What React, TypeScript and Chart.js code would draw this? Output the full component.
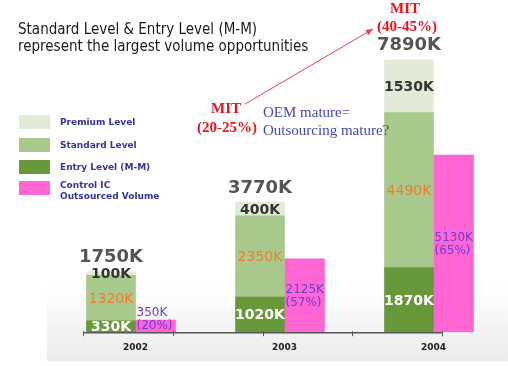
import React, { useEffect, useRef } from 'react';
import { Chart, registerables } from 'chart.js';

Chart.register(...registerables);

// ---- data ----
const years = ['2002', '2003', '2004'];
const entryLevel = [330, 1020, 1870];
const standardLevel = [1320, 2350, 4490];
const premiumLevel = [100, 400, 1530];
const controlIC = [350, 2125, 5130];
const controlPct = [20, 57, 65];
const axisTickSteps = [0, 1, 2, 3, 4];

const titleLines = ['Standard Level & Entry Level (M-M)', 'represent the largest volume opportunities'];
const legendOrder = [2, 1, 0, 3];
const legendLines = [['Premium Level'], ['Standard Level'], ['Entry Level (M-M)'], ['Control IC', 'Outsourced Volume']];

const C_PREMIUM = '#e2ebd6';
const C_STANDARD = '#a8c98b';
const C_ENTRY = '#67993a';
const C_CONTROL = '#ff66d4';

const SANS = '"DejaVu Sans", Verdana, sans-serif';
const SERIF = '"Liberation Serif", "Times New Roman", serif';

const fmtK = (v: number) => `${v}K`;

const decorPlugin = {
  id: 'decor',
  beforeDraw(chart: any) {
    const { ctx } = chart;
    ctx.save();
    const g = ctx.createLinearGradient(0, 285, 0, 361);
    g.addColorStop(0, 'rgba(236,236,236,0)');
    g.addColorStop(1, 'rgba(234,234,234,1)');
    ctx.fillStyle = g;
    ctx.fillRect(47, 285, 461, 76);
    ctx.restore();
  },
  afterDatasetsDraw(chart: any) {
    const { ctx } = chart;
    const yScale = chart.scales.y;
    const xt = chart.scales.xt;
    ctx.save();
    ctx.textBaseline = 'middle';
    ctx.textAlign = 'center';

    // segment labels
    const segStyles = [
      { font: `bold 14px ${SANS}`, color: '#ffffff' },
      { font: `14px ${SANS}`, color: '#f07a2c' },
      { font: `bold 14px ${SANS}`, color: '#333333' },
    ];
    const segData = [entryLevel, standardLevel, premiumLevel];
    for (let d = 0; d < 3; d++) {
      const meta = chart.getDatasetMeta(d);
      meta.data.forEach((el: any, i: number) => {
        const p = el.getProps(['x', 'y', 'base'], true);
        ctx.font = segStyles[d].font;
        ctx.fillStyle = segStyles[d].color;
        ctx.fillText(fmtK(segData[d][i]), p.x, (p.y + p.base) / 2 + 1);
      });
    }

    // totals above stacks
    const topMeta = chart.getDatasetMeta(2);
    topMeta.data.forEach((el: any, i: number) => {
      const p = el.getProps(['x', 'y'], true);
      const total = entryLevel[i] + standardLevel[i] + premiumLevel[i];
      ctx.font = `bold 18px ${SANS}`;
      ctx.fillStyle = '#555555';
      ctx.fillText(fmtK(total), p.x, p.y - 14);
    });

    // control IC labels
    const cMeta = chart.getDatasetMeta(3);
    cMeta.data.forEach((el: any, i: number) => {
      const p = el.getProps(['x', 'y', 'base', 'width'], true);
      const cy = Math.min((p.y + p.base) / 2, p.base - 13);
      ctx.font = `12px ${SANS}`;
      ctx.fillStyle = '#6a3cd4';
      ctx.textAlign = 'left';
      const lx = p.x - p.width / 2 + 1;
      ctx.fillText(fmtK(controlIC[i]), lx, cy - 6);
      ctx.fillText(`(${controlPct[i]}%)`, lx, cy + 7);
    });

    // axis line + ticks
    const y0 = yScale.getPixelForValue(0);
    const xa = xt.getPixelForValue(axisTickSteps[0]);
    const xb = xt.getPixelForValue(axisTickSteps[axisTickSteps.length - 1]);
    ctx.strokeStyle = '#555555';
    ctx.lineWidth = 1.5;
    ctx.beginPath();
    ctx.moveTo(xa, y0 + 0.5);
    ctx.lineTo(xb, y0 + 0.5);
    ctx.stroke();
    ctx.lineWidth = 1;
    axisTickSteps.forEach((t) => {
      const x = Math.round(xt.getPixelForValue(t)) + 0.5;
      ctx.beginPath();
      ctx.moveTo(x, y0 - 1);
      ctx.lineTo(x, y0 + 4);
      ctx.stroke();
    });

    // legend
    const legendY = [122, 145, 167, 188];
    legendOrder.forEach((dsIndex, k) => {
      const ds = chart.data.datasets[dsIndex];
      const cy = legendY[k];
      ctx.fillStyle = ds.backgroundColor;
      ctx.fillRect(19, cy - 7, 31, 14);
      ctx.font = `bold 9px ${SANS}`;
      ctx.fillStyle = '#34349a';
      ctx.textAlign = 'left';
      const lines = legendLines[k];
      if (lines.length === 1) {
        ctx.fillText(lines[0], 60, cy + 1);
      } else {
        ctx.fillText(lines[0], 60, cy - 2);
        ctx.fillText(lines[1], 60, cy + 9);
      }
    });

    // annotations
    ctx.textAlign = 'center';
    ctx.font = `bold 15px ${SERIF}`;
    ctx.fillStyle = '#e4141e';
    ctx.fillText('MIT', 226, 109);
    ctx.fillText('(20-25%)', 227, 128);
    ctx.fillText('MIT', 405, 9);
    ctx.fillText('(40-45%)', 407, 27);

    // arrow
    const ax0 = 245, ay0 = 104, ax1 = 373, ay1 = 29;
    ctx.strokeStyle = '#e6404c';
    ctx.lineWidth = 1;
    ctx.beginPath();
    ctx.moveTo(ax0, ay0);
    ctx.lineTo(ax1, ay1);
    ctx.stroke();
    const ang = Math.atan2(ay1 - ay0, ax1 - ax0);
    ctx.fillStyle = '#e6404c';
    ctx.beginPath();
    ctx.moveTo(ax1, ay1);
    ctx.lineTo(ax1 - 7 * Math.cos(ang) + 3 * Math.sin(ang), ay1 - 7 * Math.sin(ang) - 3 * Math.cos(ang));
    ctx.lineTo(ax1 - 7 * Math.cos(ang) - 3 * Math.sin(ang), ay1 - 7 * Math.sin(ang) + 3 * Math.cos(ang));
    ctx.closePath();
    ctx.fill();

    ctx.textAlign = 'left';
    ctx.font = `15px ${SERIF}`;
    ctx.fillStyle = '#4646b4';
    ctx.fillText('OEM mature=', 263, 113);
    ctx.fillText('Outsourcing mature?', 263, 131);

    ctx.restore();
  },
};

export default function App() {
  const canvasRef = useRef<HTMLCanvasElement | null>(null);

  useEffect(() => {
    if (!canvasRef.current) return;
    const chart = new Chart(canvasRef.current, {
      type: 'bar',
      data: {
        labels: years,
        datasets: [
          { label: 'Entry Level (M-M)', data: entryLevel, backgroundColor: C_ENTRY, stack: 'main', barThickness: 49 },
          { label: 'Standard Level', data: standardLevel, backgroundColor: C_STANDARD, stack: 'main', barThickness: 49 },
          { label: 'Premium Level', data: premiumLevel, backgroundColor: C_PREMIUM, stack: 'main', barThickness: 49 },
          { label: 'Control IC Outsourced Volume', data: controlIC, backgroundColor: C_CONTROL, stack: 'ctrl', barThickness: 40 },
        ],
      },
      options: {
        responsive: false,
        animation: false,
        layout: { padding: { top: 12, left: 18, right: 0, bottom: 3 } },
        plugins: {
          legend: { display: false },
          tooltip: { enabled: false },
          title: {
            display: true,
            text: titleLines,
            align: 'start',
            color: '#1a1a1a',
            font: { family: '"DejaVu Sans Condensed", "DejaVu Sans", sans-serif', size: 15, weight: 'normal', lineHeight: '17px' },
            padding: { top: 10, bottom: 0 },
          },
        },
        scales: {
          x: {
            stacked: true,
            grid: { display: false, drawTicks: false },
            border: { display: false },
            ticks: { color: '#222222', padding: 10, font: { family: SANS, size: 9, weight: 'bold' } },
          },
          xt: {
            type: 'linear',
            display: false,
            position: 'bottom',
            min: 0,
            max: 4.49,
          },
          y: {
            stacked: true,
            min: 0,
            max: 8000,
            grid: { display: false, drawTicks: false },
            border: { display: false },
            ticks: { display: false },
            afterFit: (scale: any) => {
              scale.width = 43;
            },
          },
        },
      },
      plugins: [decorPlugin],
    } as any);
    return () => chart.destroy();
  }, []);

  return (
    <div style={{ position: 'fixed', left: 0, top: 0, width: 508, height: 366, background: '#ffffff' }}>
      <canvas ref={canvasRef} width={508} height={366} style={{ display: 'block' }} />
    </div>
  );
}
